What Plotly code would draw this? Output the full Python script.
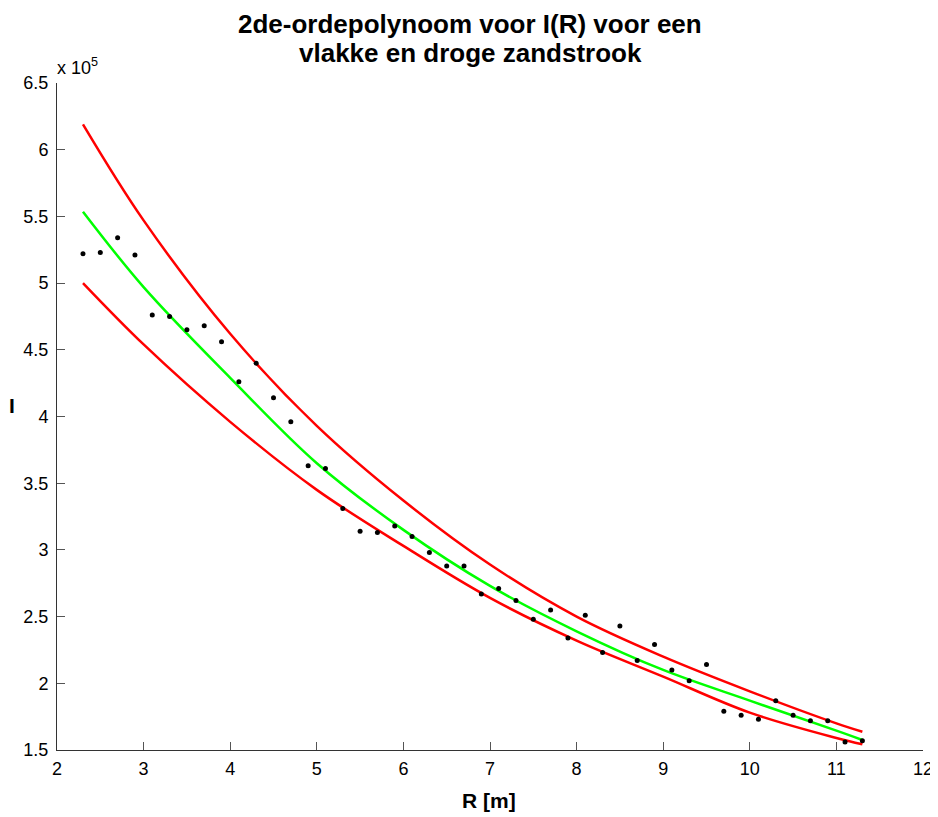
import plotly.graph_objects as go

# Measured data points: R [m] and I
R_data = [2.3, 2.5, 2.7, 2.9, 3.1, 3.3, 3.5, 3.7, 3.9, 4.1, 4.3, 4.5, 4.7, 4.9, 5.1,
          5.3, 5.5, 5.7, 5.9, 6.1, 6.3, 6.5, 6.7, 6.9, 7.1, 7.3, 7.5, 7.7, 7.9, 8.1,
          8.3, 8.5, 8.7, 8.9, 9.1, 9.3, 9.5, 9.7, 9.9, 10.1, 10.3, 10.5, 10.7, 10.9,
          11.1, 11.3]
I_data = [522000, 523000, 534000, 521000, 476000, 475000, 465000, 468000, 456000,
          426000, 440000, 414000, 396000, 363000, 361000, 331000, 314000, 313000,
          318000, 310000, 298000, 288000, 288000, 267000, 271000, 262000, 248000,
          255000, 234000, 251000, 223000, 243000, 217000, 229000, 210000, 202000,
          214000, 179000, 176000, 173000, 187000, 176000, 172000, 172000, 156000,
          157000]

# Curves (fit and confidence bounds)
R_curve = [2.3, 3, 4, 5, 6, 7, 8, 9, 10, 11, 11.3]
I_fit = [553500, 497000, 429000, 365000, 315000, 273000, 239000, 210000, 187000, 164500, 157500]
I_upper = [619000, 547000, 462000, 393000, 337000, 289000, 250000, 220000, 194000, 170000, 163700]
I_lower = [500000, 454000, 396000, 345000, 303000, 264000, 232000, 205000, 178000, 159000, 154300]

y_ticks = [150000, 200000, 250000, 300000, 350000, 400000, 450000, 500000, 550000, 600000, 650000]
y_ticktext = ["1.5", "2", "2.5", "3", "3.5", "4", "4.5", "5", "5.5", "6", "6.5"]
x_ticks = [2, 3, 4, 5, 6, 7, 8, 9, 10, 11, 12]

title_lines = ["2de-ordepolynoom voor I(R) voor een", "vlakke en droge zandstrook"]
x_label = "R [m]"
y_label = "I"

fig = go.Figure()
fig.add_trace(go.Scatter(x=R_curve, y=I_upper, mode="lines", line=dict(color="#ff0000", width=2.5, shape="spline"), showlegend=False))
fig.add_trace(go.Scatter(x=R_curve, y=I_lower, mode="lines", line=dict(color="#ff0000", width=2.5, shape="spline"), showlegend=False))
fig.add_trace(go.Scatter(x=R_curve, y=I_fit, mode="lines", line=dict(color="#00ff00", width=2.5, shape="spline"), showlegend=False))
fig.add_trace(go.Scatter(x=R_data, y=I_data, mode="markers", marker=dict(color="black", size=5), showlegend=False))

font_family = "Liberation Sans, Arial, sans-serif"

# page body adds an 8px offset; figure coordinates are screen minus 8
OFF = 8
W, H = 938, 817
L, T = 57 - OFF, 83 - OFF
R = W - (923 - OFF)
B = H - (750 - OFF)
PW, PH = W - L - R, H - T - B


def px_to_paper_x(px):
    return (px - OFF - L) / PW


def py_to_paper_y(py):
    return 1 + (T - (py - OFF)) / PH


annotations = [
    dict(text="<b>" + title_lines[0] + "</b>", x=px_to_paper_x(470), y=py_to_paper_y(24),
         font=dict(size=26)),
    dict(text="<b>" + title_lines[1] + "</b>", x=px_to_paper_x(470), y=py_to_paper_y(53),
         font=dict(size=26)),
    dict(text="<b>" + x_label + "</b>", x=px_to_paper_x(489), y=py_to_paper_y(800),
         font=dict(size=21)),
    dict(text="<b>" + y_label + "</b>", x=px_to_paper_x(12), y=py_to_paper_y(405),
         font=dict(size=21)),
]
for a in annotations:
    a.update(xref="paper", yref="paper", xanchor="center", yanchor="middle", showarrow=False)
annotations.append(dict(text="x 10<sup>5</sup>", xref="paper", yref="paper", x=0, y=1,
                        xanchor="left", yanchor="bottom", showarrow=False,
                        font=dict(size=18), xshift=-2, yshift=3))

fig.update_layout(
    width=W, height=H,
    margin=dict(l=L, r=R, t=T, b=B, autoexpand=False),
    paper_bgcolor="white", plot_bgcolor="white",
    font=dict(family=font_family, size=18, color="black"),
    xaxis=dict(range=[2, 12], tickvals=x_ticks, ticks="inside", ticklen=8, tickcolor="#555555",
               showline=True, linecolor="#333333", linewidth=1, mirror=False, showgrid=False,
               zeroline=False, tickfont=dict(size=18), automargin=False, ticklabelstandoff=2),
    yaxis=dict(range=[150000, 650000], tickvals=y_ticks, ticktext=y_ticktext, ticks="inside",
               ticklen=8, tickcolor="#555555", showline=True, linecolor="#333333", linewidth=1,
               mirror=False, showgrid=False, zeroline=False, tickfont=dict(size=18),
               ticklabelstandoff=4, automargin=False),
    annotations=annotations,
)

fig.write_html("out.html")
